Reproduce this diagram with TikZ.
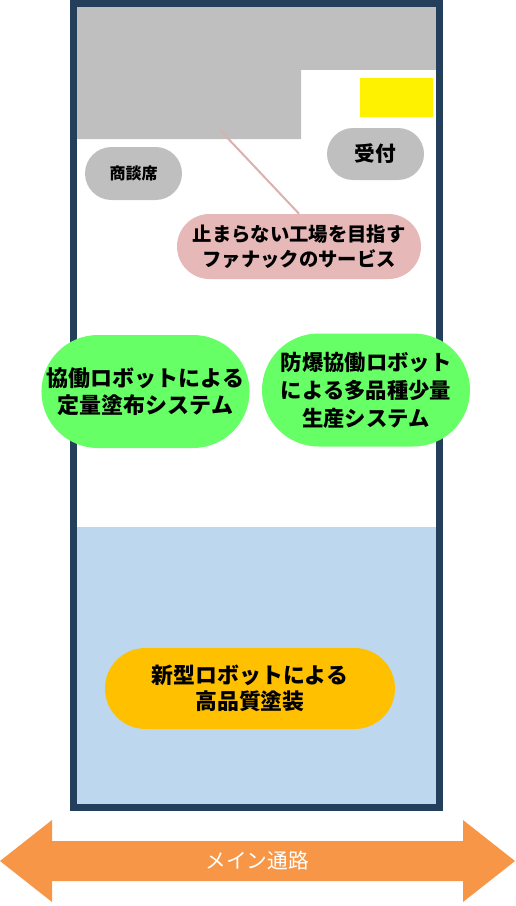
\documentclass[tikz,border=0pt]{standalone}
\usepackage{fontspec}
\newfontfamily\jp{Noto Sans CJK JP}
\usetikzlibrary{shapes.misc}
\definecolor{framecol}{HTML}{243F5C}
\definecolor{graycol}{HTML}{BFBFBF}
\definecolor{bluecol}{HTML}{BDD7EE}
\definecolor{pinkcol}{HTML}{E6B9B8}
\definecolor{greencol}{HTML}{66FF66}
\definecolor{orangecol}{HTML}{FFC000}
\definecolor{arrowcol}{HTML}{F79646}
\tikzset{
  booth/.style={rounded rectangle, inner sep=0pt, align=center},
}

\begin{document}
\begin{tikzpicture}[x=0.75pt,y=-0.75pt]
\useasboundingbox (0,0) rectangle (515,906);
% areas
\fill[graycol] (77,7)--(436,7)--(436,70)--(301,70)--(301,139)--(77,139)--cycle;
\fill[yellow] (360,78) rectangle (433,117);
\fill[bluecol] (77,527) rectangle (436,804);
\draw[framecol,line width=5.25pt] (73.5,3.5) rectangle (439.5,807.5);

% booths
\node[booth,fill=graycol,minimum width=72.75pt,minimum height=39pt,
  font={\jp\bfseries\fontsize{15.5}{18}\selectfont}] (reception) at (375.5,154) {受付};
\node[booth,fill=graycol,minimum width=72.75pt,minimum height=39.75pt,
  font={\jp\bfseries\fontsize{12}{14}\selectfont}] (meeting) at (133.5,173.5) {商談席};
\node[booth,fill=pinkcol,minimum width=183pt,minimum height=48.75pt,
  font={\jp\bfseries\fontsize{14.5}{18.5}\selectfont}] (service) at (299,246.5)
  {止まらない工場を目指す\\ファナックのサービス};
\node[booth,fill=greencol,minimum width=153.75pt,minimum height=84.75pt,
  font={\jp\bfseries\fontsize{16.5}{20.25}\selectfont}] (coat) at (145.5,391.5)
  {協働ロボットによる\\定量塗布システム};
\node[booth,fill=greencol,minimum width=156pt,minimum height=84.75pt,
  font={\jp\bfseries\fontsize{16}{21}\selectfont}] (mix) at (366,390)
  {防爆協働ロボット\\による多品種少量\\生産システム};
\node[booth,fill=orangecol,minimum width=217.5pt,minimum height=60.75pt,
  font={\jp\bfseries\fontsize{16.4}{19.5}\selectfont}] (paint) at (250,688.5)
  {新型ロボットによる\\高品質塗装};

% pointer
\coordinate (booth) at (220,130);
\draw[pinkcol!95!black,line width=1.5pt] (booth) -- (service.north);

% main aisle
\fill[arrowcol] (0,861)--(52,820)--(52,841)--(463,841)--(463,820)--(515,861)
  --(463,902)--(463,881)--(52,881)--(52,902)--cycle;
\node[white,font={\jp\fontsize{15.5}{18}\selectfont}] (aisle) at (257,861) {メイン通路};
\end{tikzpicture}
\end{document}
